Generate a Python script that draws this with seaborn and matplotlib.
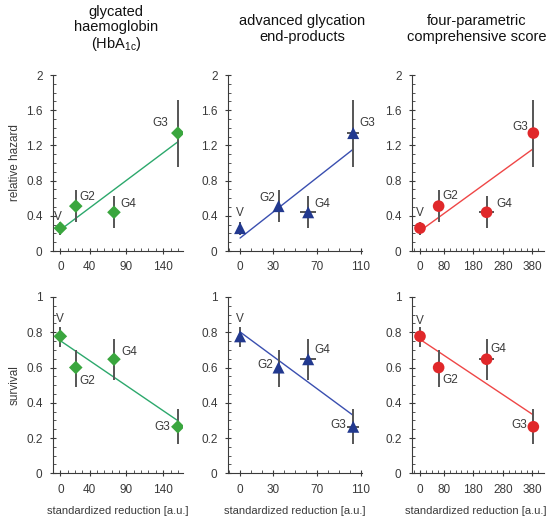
import numpy as np
import pandas as pd
import matplotlib
matplotlib.use('Agg')
import matplotlib.pyplot as plt
import seaborn as sns
from matplotlib.ticker import MultipleLocator, FixedLocator, FuncFormatter

# ---------------- data ----------------
groups = ['V', 'G2', 'G4', 'G3']
hba1c_x = [0, 21, 73, 160]
age_x = [0, 35, 62, 103]
score_x = [0, 63, 225, 383]
hba1c_xerr = [0, 0, 0, 0]
age_xerr = [0, 0, 7.5, 5.3]
score_xerr = [0, 0, 24, 0]

hazard = [0.26, 0.51, 0.44, 1.34]
hazard_lo = [0.185, 0.33, 0.26, 0.96]
hazard_hi = [0.335, 0.69, 0.62, 1.72]
survival = [0.777, 0.60, 0.647, 0.264]
survival_lo = [0.716, 0.49, 0.53, 0.164]
survival_hi = [0.83, 0.70, 0.764, 0.362]

titles = ['glycated\nhaemoglobin\n(HbA$_{\\mathregular{1c}}$)',
          'advanced glycation\nend-products',
          'four-parametric\ncomprehensive score']
xticks = [[0, 40, 90, 140], [0, 30, 70, 110], [0, 80, 180, 280, 380]]
row_labels = ['relative hazard', 'survival']
xlabel = 'standardized reduction [a.u.]'

# ---------------- style ----------------
sns.set_theme(style='white')
plt.rcParams['font.family'] = ['Liberation Sans', 'DejaVu Sans']
plt.rcParams['mathtext.fontset'] = 'custom'
plt.rcParams['mathtext.rm'] = 'Liberation Sans'

xs = [hba1c_x, age_x, score_x]
xerrs = [hba1c_xerr, age_xerr, score_xerr]
xlims = [(-10, 167), (-11, 111), (-27, 419)]
xminor = [10, 10, 20]
markers = ['D', '^', 'o']
msizes = [48, 75, 70]
mcolors = ['#3aa63e', '#22398f', '#e0282a']
lcolors = ['#2ca86c', '#3a4fb0', '#ef4646']
ax_left = [53, 228, 412]
ax_right = [183, 362, 544]
title_x = [116, 302, 477]
xlabel_x = [118, 295, 476]

W, H = 550, 522
rows = [
    dict(y=hazard, lo=hazard_lo, hi=hazard_hi, top=75, bot=251, ylim=(0, 2), major=0.4, minor=0.1),
    dict(y=survival, lo=survival_lo, hi=survival_hi, top=297, bot=473.3, ylim=(0, 1), major=0.2, minor=0.05),
]

# label offsets in pixels: (dx, dy, ha) for V, G2, G4, G3
offsets = {
    (0, 0): [(-2, 11, 'center'), (4, 9, 'left'), (6, 8, 'left'), (-10, 10, 'right')],
    (0, 1): [(0, 15, 'center'), (-3, 8, 'right'), (6, 8, 'left'), (6, 10, 'left')],
    (0, 2): [(0, 15, 'center'), (4, 10, 'left'), (10, 8, 'left'), (-5, 6, 'right')],
    (1, 0): [(0, 17, 'center'), (4, -13, 'left'), (7, 7, 'left'), (-8, 0, 'right')],
    (1, 1): [(0, 17, 'center'), (-5, 3, 'right'), (6, 9, 'left'), (-7, 2, 'right')],
    (1, 2): [(0, 15, 'center'), (4, -12, 'left'), (4, 10, 'left'), (-6, 2, 'right')],
}

fig = plt.figure(figsize=(W / 100, H / 100), dpi=100)
tc = '#3a3a3a'
px2pt = 72 / 100

for r, row in enumerate(rows):
    for c in range(3):
        ax = fig.add_axes([ax_left[c] / W, 1 - row['bot'] / H,
                           (ax_right[c] - ax_left[c]) / W, (row['bot'] - row['top']) / H])
        df = pd.DataFrame({'x': xs[c], 'y': row['y'], 'lo': row['lo'], 'hi': row['hi'],
                           'xerr': xerrs[c], 'g': groups})
        sns.regplot(data=df, x='x', y='y', scatter=False, ci=None, truncate=True,
                    line_kws=dict(color=lcolors[c], lw=1.0, zorder=1), ax=ax)
        ax.errorbar(df['x'], df['y'], yerr=[df['y'] - df['lo'], df['hi'] - df['y']],
                    xerr=df['xerr'], fmt='none', ecolor='#555555', elinewidth=1.4,
                    capsize=0, zorder=2)
        sns.scatterplot(data=df, x='x', y='y', marker=markers[c], s=msizes[c],
                        color=mcolors[c], edgecolor='none', linewidth=0, ax=ax, zorder=3)
        for i, g in enumerate(groups):
            dx, dy, ha = offsets[(r, c)][i]
            ax.annotate(g, (df['x'][i], df['y'][i]), xytext=(dx * px2pt, dy * px2pt),
                        textcoords='offset points', ha=ha, va='center',
                        fontsize=8.5, color=tc)
        ax.set_xlim(*xlims[c])
        ax.set_ylim(*row['ylim'])
        ax.xaxis.set_major_locator(FixedLocator(xticks[c]))
        ax.xaxis.set_minor_locator(MultipleLocator(xminor[c]))
        ax.yaxis.set_major_locator(MultipleLocator(row['major']))
        ax.yaxis.set_minor_locator(MultipleLocator(row['minor']))
        ax.yaxis.set_major_formatter(FuncFormatter(lambda v, p: '%g' % round(v, 2)))
        for s in ['top', 'right']:
            ax.spines[s].set_visible(False)
        for s in ['left', 'bottom']:
            ax.spines[s].set_color(tc)
            ax.spines[s].set_linewidth(0.8)
        ax.tick_params(which='major', direction='inout', length=5, width=0.8,
                       color=tc, labelsize=8.5, labelcolor=tc, pad=5,
                       left=True, bottom=True)
        ax.tick_params(which='minor', direction='in', length=2.5, width=0.6,
                       color=tc, left=True, bottom=True)
        ax.set_xlabel('')
        ax.set_ylabel('')
        ax.grid(False)
        ax.patch.set_alpha(0)

    fig.text(15 / W, 1 - ((row['top'] + row['bot']) / 2) / H, row_labels[r],
             rotation=90, ha='center', va='center', fontsize=8.5, color=tc)

for c in range(3):
    fig.text(title_x[c] / W, 1 - 29 / H, titles[c], ha='center', va='center',
             fontsize=10.5, color='#111111', linespacing=1.1)
    fig.text(xlabel_x[c] / W, 1 - 511 / H, xlabel,
             ha='center', va='center', fontsize=8, color=tc)

fig.savefig('out.png', dpi=100)
